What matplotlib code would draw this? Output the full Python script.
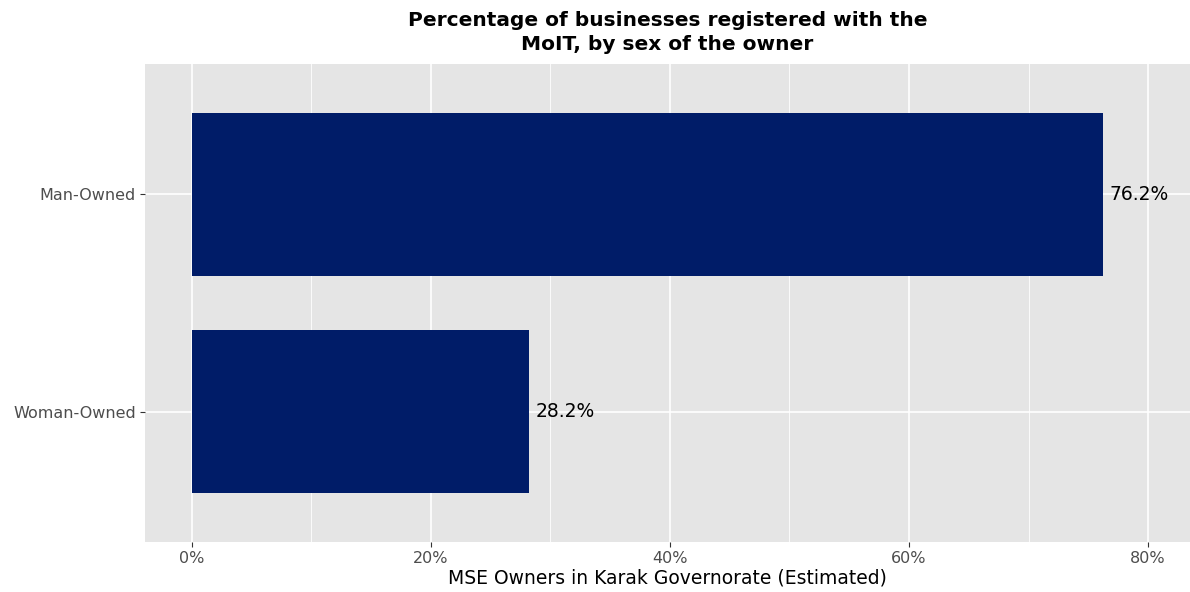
import numpy as np
import matplotlib.pyplot as plt
from matplotlib.ticker import FuncFormatter, MultipleLocator

plt.rcParams['font.family'] = ['DejaVu Sans']

# data
groups = ['Woman-Owned', 'Man-Owned']
values = [28.2, 76.2]
bar_color = '#001C68'

fig = plt.figure(figsize=(11.9, 5.92), dpi=100)
ax = fig.add_axes([145 / 1190, 50 / 592, 1 - 145 / 1190, 478 / 592])
ax.set_facecolor('#E5E5E5')

ypos = np.arange(1, len(groups) + 1)
ax.barh(ypos, values, height=0.75, color=bar_color, zorder=3)
for y, v in zip(ypos, values):
    ax.text(v + 0.55, y, f'{v:.1f}%', va='center', ha='left',
            fontsize=13.5, color='black', zorder=4)

ax.set_xlim(-3.9, 83.5)
ax.set_ylim(0.4, 2.6)
ax.xaxis.set_major_locator(MultipleLocator(20))
ax.xaxis.set_minor_locator(MultipleLocator(10))
ax.xaxis.set_major_formatter(FuncFormatter(lambda v, p: f'{v:.0f}%'))
ax.set_yticks(ypos)
ax.set_yticklabels(groups)

ax.grid(which='major', color='white', linewidth=1.2, zorder=0)
ax.grid(which='minor', axis='x', color='white', linewidth=0.6, zorder=0)
ax.tick_params(which='major', length=3.5, color='#333333', labelcolor='#4D4D4D',
               labelsize=11.5, pad=3)
ax.tick_params(which='minor', length=0)
for s in ax.spines.values():
    s.set_visible(False)

ax.set_xlabel('MSE Owners in Karak Governorate (Estimated)', fontsize=13.5,
              labelpad=2)
ax.set_title('Percentage of businesses registered with the\nMoIT, by sex of the owner',
             fontsize=14.5, fontweight='bold', pad=10, linespacing=1.35)

plt.savefig('out.png', dpi=100)
